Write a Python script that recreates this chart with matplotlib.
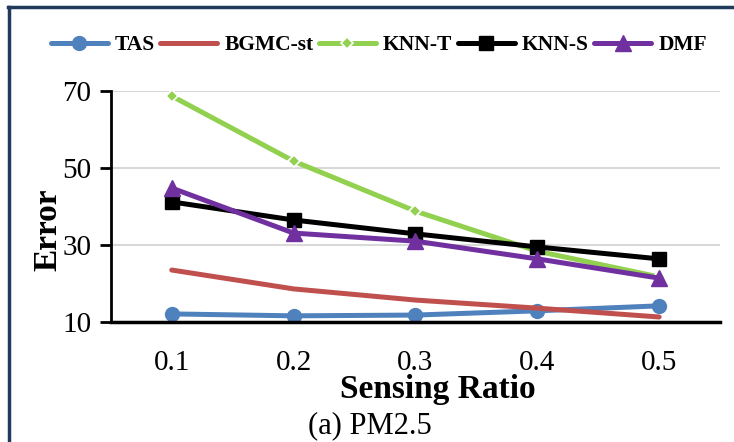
import matplotlib
matplotlib.use("Agg")
import matplotlib.pyplot as plt
from matplotlib.lines import Line2D

# values
ratios = ["0.1", "0.2", "0.3", "0.4", "0.5"]
tas = [12.1, 11.6, 11.8, 12.9, 14.2]
bgmc_st = [23.5, 18.6, 15.7, 13.6, 11.3]
knn_t = [68.7, 51.8, 38.8, 28.4, 21.7]
knn_s = [41.2, 36.5, 32.9, 29.5, 26.4]
dmf = [44.8, 33.1, 31.0, 26.4, 21.4]
yticks = [10, 30, 50, 70]

plt.rcParams["font.family"] = ["Liberation Serif", "DejaVu Serif"]

fig = plt.figure(figsize=(7.34, 4.42), dpi=100)
ax = fig.add_axes([0.151, 0.2715, 0.830, 0.5225])

x = range(len(ratios))
lw = 3.6
ax.plot(x, tas, color="#4F81BD", lw=lw, marker="o", ms=10, label="TAS",
        solid_capstyle="round")
ax.plot(x, bgmc_st, color="#C0504D", lw=lw, label="BGMC-st",
        solid_capstyle="round")
ax.plot(x, knn_t, color="#92D050", lw=lw, marker="D", ms=6,
        markeredgecolor="white", markeredgewidth=1.2, label="KNN-T",
        solid_capstyle="round")
ax.plot(x, knn_s, color="black", lw=lw, marker="s", ms=10, label="KNN-S",
        solid_capstyle="round")
ax.plot(x, dmf, color="#7030A0", lw=lw, marker="^", ms=11, label="DMF",
        solid_capstyle="round")

ax.set_xlim(-0.5, len(ratios) - 0.5)
ax.set_ylim(10, 70)
ax.set_xticks(list(x))
ax.set_xticklabels(ratios)
ax.set_yticks(yticks)
ax.tick_params(axis="x", length=0, pad=20, labelsize=21)
ax.tick_params(axis="y", length=8, width=2, pad=6, labelsize=21)
ax.grid(axis="y", color="#D9D9D9", lw=1.5)
ax.set_axisbelow(True)
for side in ["top", "right"]:
    ax.spines[side].set_visible(False)
ax.spines["left"].set_linewidth(2)
ax.spines["bottom"].set_linewidth(2.5)

fig.legend(loc="center", bbox_to_anchor=(0.516, 0.898), ncol=5, frameon=False,
           prop={"weight": "bold", "size": 15.5}, handlelength=2.65,
           handletextpad=0.33, columnspacing=0.25, borderaxespad=0)

fig.text(0.065, 0.48, "Error", rotation=90, ha="center", va="center",
         fontsize=24, fontweight="bold")
fig.text(0.597, 0.100, "Sensing Ratio", ha="center", va="baseline",
         fontsize=24, fontweight="bold")
fig.text(0.504, 0.02, "(a) PM2.5", ha="center", va="baseline", fontsize=22)

# dark frame on the left and top edges
frame = "#1F3A5A"
fig.add_artist(Line2D([9 / 734, 9 / 734], [0, 1 - 7 / 442], color=frame, lw=2.5,
                      transform=fig.transFigure))
fig.add_artist(Line2D([8 / 734, 1], [1 - 7 / 442, 1 - 7 / 442], color=frame,
                      lw=2.5, transform=fig.transFigure))

fig.savefig("out.png", dpi=100)
